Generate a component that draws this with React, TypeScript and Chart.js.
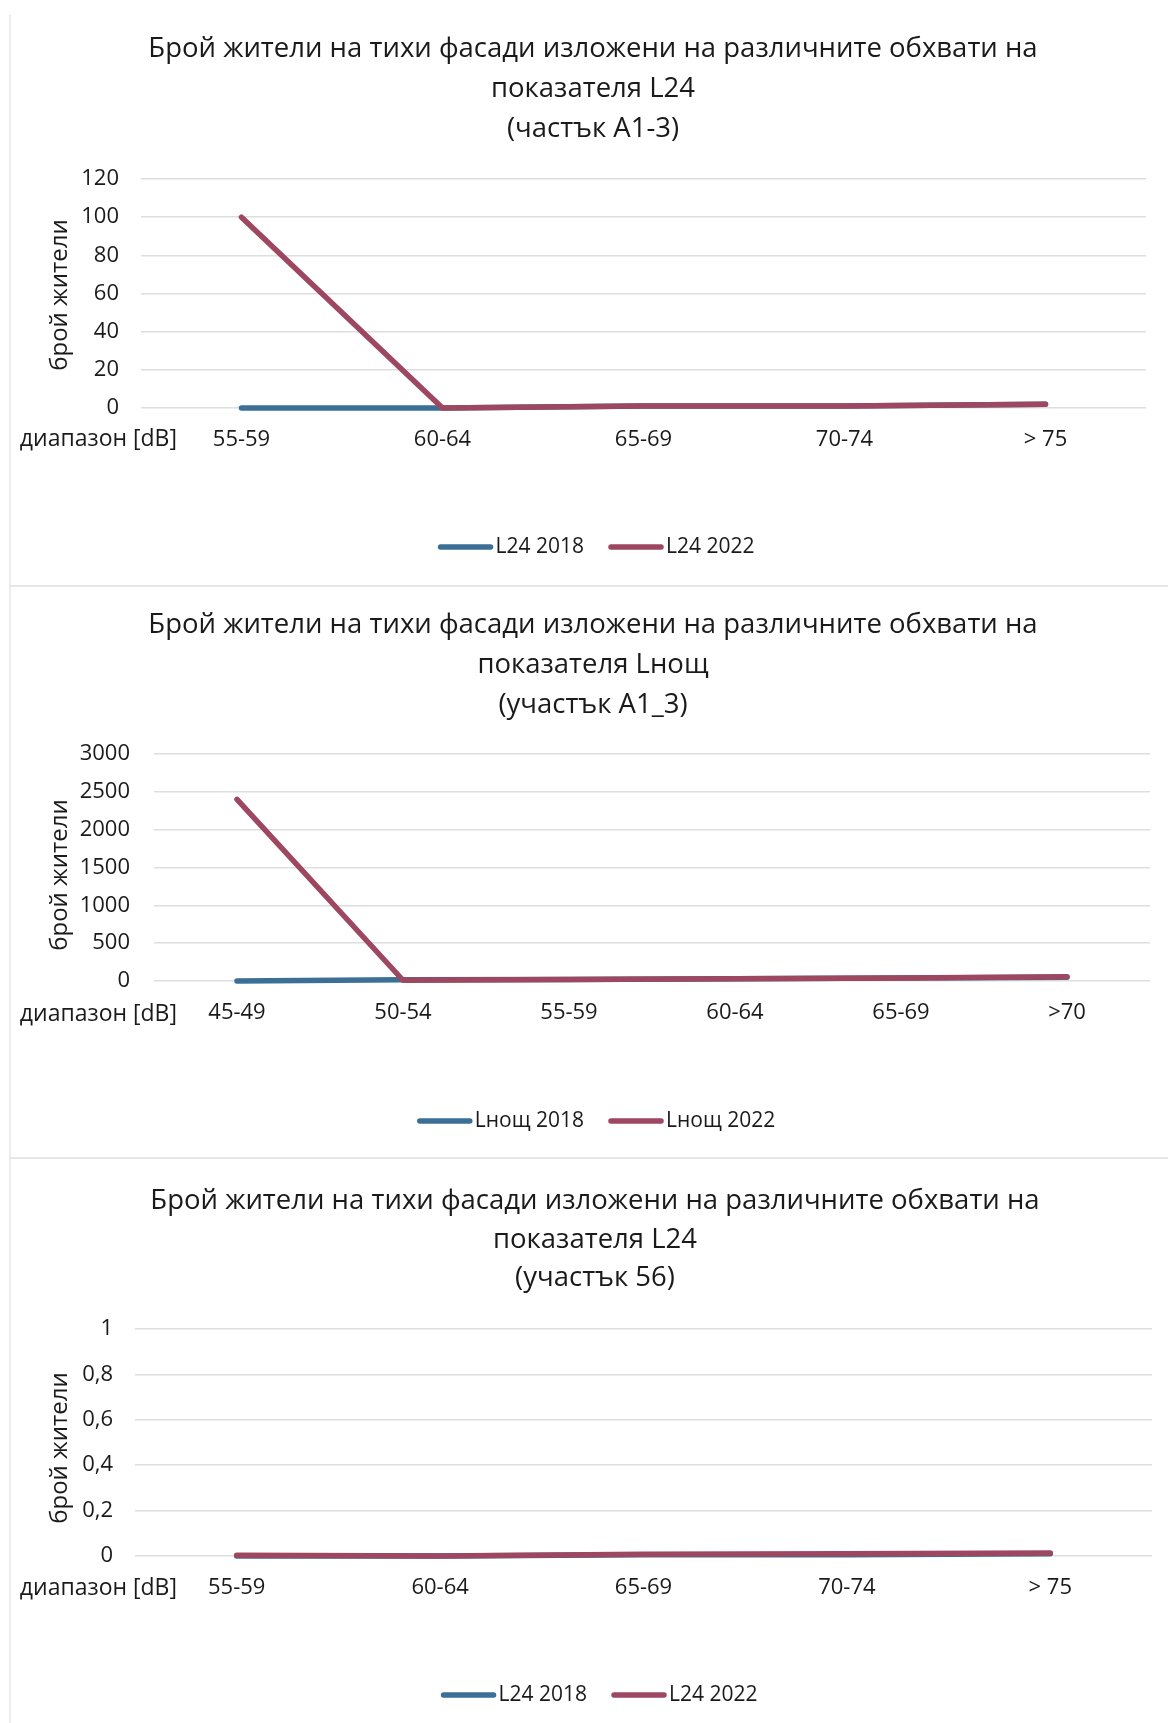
import React, { useEffect, useRef } from "react";
import { Chart, registerables } from "chart.js";

Chart.register(...registerables);

// ---------- DATA ----------
const titleLine1 = "Брой жители на тихи фасади изложени на различните обхвати на";

const chart1Title = [titleLine1, "показателя L24", "(частък А1-3)"];
const chart1Categories = ["55-59", "60-64", "65-69", "70-74", "> 75"];
const chart1Series2018 = [0, 0, 1, 1, 2];
const chart1Series2022 = [100, 0, 1, 1, 2];
const chart1Labels = ["L24 2018", "L24 2022"];
const chart1Ticks = [0, 20, 40, 60, 80, 100, 120];

const chart2Title = [titleLine1, "показателя Lнощ", "(участък А1_3)"];
const chart2Categories = ["45-49", "50-54", "55-59", "60-64", "65-69", ">70"];
const chart2Series2018 = [0, 15, 20, 30, 40, 50];
const chart2Series2022 = [2400, 10, 20, 30, 40, 55];
const chart2Labels = ["Lнощ 2018", "Lнощ 2022"];
const chart2Ticks = [0, 500, 1000, 1500, 2000, 2500, 3000];

const chart3Title = [titleLine1, "показателя L24", "(участък 56)"];
const chart3Categories = ["55-59", "60-64", "65-69", "70-74", "> 75"];
const chart3Series2018 = [0, 0, 0.005, 0.005, 0.01];
const chart3Series2022 = [0.003, 0, 0.008, 0.01, 0.013];
const chart3Labels = ["L24 2018", "L24 2022"];
const chart3Ticks = [0, 0.2, 0.4, 0.6, 0.8, 1];

const yAxisTitle = "брой жители";
const xAxisTitle = "диапазон [dB]";

// ---------- STYLE ----------
const BLUE = "#3b6f96";
const RED = "#9e4761";
const GRID = "#dedede";
const TEXT = "#1a1a1a";
const FONT = "'Open Sans', 'Noto Sans', sans-serif";

type Layout = {
  top: number;
  height: number;
  plotLeft: number;
  plotRight: number;
  plotTop: number;
  plotBottom: number;
  tickPad: number;
  titleY: number[];
  titleX: number;
  legendY: number;
  legendX: number;
  xLabelY: number;
  yTitleX: number;
  yTitleY: number;
  xTitleRight: number;
};

type Spec = {
  layout: Layout;
  title: string[];
  categories: string[];
  s2018: number[];
  s2022: number[];
  labels: string[];
  ticks: number[];
  decimalComma?: boolean;
};

const W = 1168;

const specs: Spec[] = [
  {
    layout: {
      top: 0, height: 585,
      plotLeft: 141, plotRight: 1146, plotTop: 179, plotBottom: 408,
      tickPad: 22,
      titleY: [49, 89, 129], titleX: 593,
      legendY: 547, legendX: 596,
      xLabelY: 439, yTitleX: 60, yTitleY: 295, xTitleRight: 177,
    },
    title: chart1Title, categories: chart1Categories,
    s2018: chart1Series2018, s2022: chart1Series2022,
    labels: chart1Labels, ticks: chart1Ticks,
  },
  {
    layout: {
      top: 585, height: 573,
      plotLeft: 154, plotRight: 1150, plotTop: 169, plotBottom: 396,
      tickPad: 24,
      titleY: [40, 80, 120], titleX: 593,
      legendY: 536, legendX: 596,
      xLabelY: 429, yTitleX: 60, yTitleY: 290, xTitleRight: 177,
    },
    title: chart2Title, categories: chart2Categories,
    s2018: chart2Series2018, s2022: chart2Series2022,
    labels: chart2Labels, ticks: chart2Ticks,
  },
  {
    layout: {
      top: 1158, height: 565,
      plotLeft: 135, plotRight: 1152, plotTop: 171, plotBottom: 398,
      tickPad: 22,
      titleY: [43, 82, 120], titleX: 595,
      legendY: 537, legendX: 599,
      xLabelY: 430, yTitleX: 60, yTitleY: 290, xTitleRight: 177,
    },
    title: chart3Title, categories: chart3Categories,
    s2018: chart3Series2018, s2022: chart3Series2022,
    labels: chart3Labels, ticks: chart3Ticks, decimalComma: true,
  },
];

function makeDecor(spec: Spec) {
  const L = spec.layout;
  return {
    id: "decor",
    afterDraw(chart: any) {
      const ctx: CanvasRenderingContext2D = chart.ctx;
      ctx.save();
      ctx.fillStyle = TEXT;
      // title
      ctx.font = `27.5px ${FONT}`;
      ctx.textAlign = "center";
      ctx.textBaseline = "middle";
      spec.title.forEach((t, i) => ctx.fillText(t, L.titleX, L.titleY[i]));
      // y-axis title
      ctx.save();
      ctx.font = `24px ${FONT}`;
      ctx.translate(L.yTitleX, L.yTitleY);
      ctx.rotate(-Math.PI / 2);
      ctx.fillText(yAxisTitle, 0, 0);
      ctx.restore();
      // x-axis side title
      ctx.font = `23px ${FONT}`;
      ctx.textAlign = "right";
      ctx.fillText(xAxisTitle, L.xTitleRight, L.xLabelY);
      // legend
      const ds = chart.data.datasets;
      ctx.font = `21px ${FONT}`;
      const lineW = 56;
      const gapLT = 2;
      const gapItems = 24;
      const widths = ds.map((d: any) => lineW + gapLT + ctx.measureText(d.label).width);
      const total = widths.reduce((a: number, b: number) => a + b, 0) + gapItems * (ds.length - 1);
      let x = L.legendX - total / 2;
      ds.forEach((d: any, i: number) => {
        ctx.strokeStyle = d.borderColor;
        ctx.lineWidth = 5.5;
        ctx.lineCap = "round";
        ctx.beginPath();
        ctx.moveTo(x + 3, L.legendY);
        ctx.lineTo(x + lineW - 3, L.legendY);
        ctx.stroke();
        ctx.textAlign = "left";
        ctx.fillStyle = TEXT;
        ctx.fillText(d.label, x + lineW + gapLT, L.legendY);
        x += widths[i] + gapItems;
      });
      ctx.restore();
    },
  };
}

function ChartPanel({ spec }: { spec: Spec }) {
  const ref = useRef<HTMLCanvasElement | null>(null);
  useEffect(() => {
    if (!ref.current) return;
    const L = spec.layout;
    const ticks = spec.ticks;
    const chart = new Chart(ref.current, {
      type: "line",
      data: {
        labels: spec.categories,
        datasets: [
          {
            label: spec.labels[0],
            data: spec.s2018,
            borderColor: BLUE,
            backgroundColor: BLUE,
            borderWidth: 5.5,
            pointRadius: 0,
            borderCapStyle: "round",
            borderJoinStyle: "round",
            clip: false,
            order: 1,
          },
          {
            label: spec.labels[1],
            data: spec.s2022,
            borderColor: RED,
            backgroundColor: RED,
            borderWidth: 5.5,
            pointRadius: 0,
            borderCapStyle: "round",
            borderJoinStyle: "round",
            clip: false,
            order: 0,
          },
        ],
      },
      options: {
        animation: false,
        responsive: false,
        maintainAspectRatio: false,
        layout: {
          padding: { left: 0, top: L.plotTop, right: W - L.plotRight, bottom: 0 },
        },
        plugins: {
          legend: { display: false },
          title: { display: false },
          tooltip: { enabled: false },
        },
        scales: {
          x: {
            type: "category",
            offset: true,
            grid: { display: false, drawTicks: false },
            border: { display: false },
            ticks: {
              color: TEXT,
              font: { family: FONT, size: 22 },
              padding: 19,
              maxRotation: 0,
              autoSkip: false,
            },
            afterFit(scale: any) {
              scale.height = L.height - L.plotBottom;
            },
          },
          y: {
            min: ticks[0],
            max: ticks[ticks.length - 1],
            afterBuildTicks(scale: any) {
              scale.ticks = ticks.map((v) => ({ value: v }));
            },
            grid: { color: GRID, lineWidth: 1.5, drawTicks: false },
            border: { display: false },
            ticks: {
              color: TEXT,
              font: { family: FONT, size: 22 },
              padding: L.tickPad,
              callback: (v: any) =>
                spec.decimalComma ? String(v).replace(".", ",") : String(v),
            },
            afterFit(scale: any) {
              scale.width = L.plotLeft;
            },
          },
        },
      },
      plugins: [makeDecor(spec)],
    } as any);
    return () => chart.destroy();
  }, [spec]);
  const L = spec.layout;
  return (
    <canvas
      ref={ref}
      width={W}
      height={L.height}
      style={{ position: "absolute", left: 0, top: L.top, width: W, height: L.height }}
    />
  );
}

export default function App() {
  return (
    <div style={{ position: "absolute", left: 0, top: 0, width: W, height: 1723, background: "#fff", overflow: "hidden" }}>
      {specs.map((s, i) => (
        <ChartPanel key={i} spec={s} />
      ))}
      <div style={{ position: "absolute", left: 9, top: 15, width: 2, height: 1708, background: "#ececec" }} />
      <div style={{ position: "absolute", left: 9, top: 585, width: 1159, height: 2, background: "#e6e6e6" }} />
      <div style={{ position: "absolute", left: 9, top: 1157, width: 1159, height: 2, background: "#e6e6e6" }} />
    </div>
  );
}
